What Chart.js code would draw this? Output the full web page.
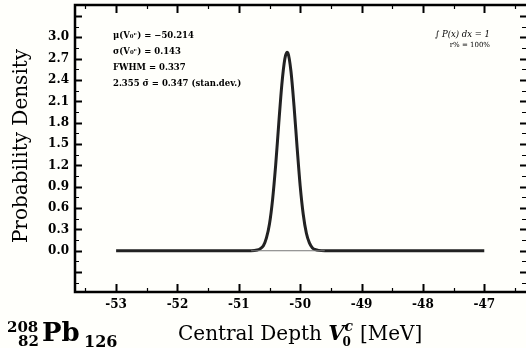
<!DOCTYPE html>
<html>
<head>
<meta charset="utf-8">
<script src="https://cdn.jsdelivr.net/npm/chart.js@4.4.1/dist/chart.umd.min.js"></script>
<style>
  html, body { margin: 0; padding: 0; background: #fffffb; overflow: hidden; }
  #wrap { width: 526px; height: 348px; }
</style>
</head>
<body>
<div id="wrap"><canvas id="chart" width="526" height="348"></canvas></div>
<script>
// values
const depth = [-53, -50.8, -50.7, -50.65, -50.6, -50.55, -50.5, -50.45, -50.4, -50.35, -50.3, -50.25,
  -50.214, -50.2, -50.15, -50.1, -50.05, -50.0, -49.95, -49.9, -49.85, -49.8, -49.75, -49.7, -49.6, -47];
const density = [0, 0, 0.01, 0.03, 0.07, 0.18, 0.38, 0.72, 1.20, 1.78, 2.33, 2.70,
  2.79, 2.78, 2.52, 2.03, 1.45, 0.91, 0.51, 0.25, 0.11, 0.04, 0.015, 0.005, 0, 0];
const baseDepth = [-50.8, -49.6];
const baseLevel = [0, 0];
const xTicks = [-53, -52, -51, -50, -49, -48, -47];
const yTicks = [0.0, 0.3, 0.6, 0.9, 1.2, 1.5, 1.8, 2.1, 2.4, 2.7, 3.0];

const stats = [
  'μ(V₀ᶜ) = −50.214',
  'σ(V₀ᶜ) = 0.143',
  'FWHM = 0.337',
  '2.355 σ̄ = 0.347 (stan.dev.)'
];

const SERIF = '"DejaVu Serif", serif';

// inward ticks, frame and text
const decor = {
  id: 'decor',
  beforeDraw(chart) {
    const c = chart.ctx;
    c.save();
    c.fillStyle = '#fffffb';
    c.fillRect(0, 0, chart.width, chart.height);
    c.restore();
  },
  afterDatasetsDraw(chart) {
    const c = chart.ctx;
    const a = chart.chartArea;
    const xs = chart.scales.x, ys = chart.scales.y;
    const right = chart.width; // frame's right edge sits just outside the picture
    c.save();
    c.strokeStyle = '#000';
    // x ticks bottom + top
    for (let v = -53.5; v <= -46.5; v += 0.5) {
      const px = Math.round(xs.getPixelForValue(v)) + 0.5;
      const major = Number.isInteger(v);
      const len = major ? 8 : 4;
      c.lineWidth = major ? 2 : 1.2;
      c.beginPath();
      c.moveTo(px, a.bottom); c.lineTo(px, a.bottom - len);
      c.moveTo(px, a.top); c.lineTo(px, a.top + len);
      c.stroke();
    }
    // y ticks left + right
    for (let i = -3; i <= 23; i++) {
      const v = i * 0.15;
      if (v < ys.min || v > ys.max) continue;
      const py = Math.round(ys.getPixelForValue(v)) + 0.5;
      const major = i % 2 === 0;
      c.lineWidth = major ? 2 : 1.2;
      c.beginPath();
      c.moveTo(a.left, py); c.lineTo(a.left + (major ? 7 : 4), py);
      c.moveTo(right, py); c.lineTo(right - (major ? 6 : 4), py);
      c.stroke();
    }
    // frame: left, bottom, top
    c.lineWidth = 2.5;
    c.beginPath();
    c.moveTo(right, a.top);
    c.lineTo(a.left, a.top);
    c.lineTo(a.left, a.bottom);
    c.lineTo(right, a.bottom);
    c.stroke();
    c.restore();
  },
  afterDraw(chart) {
    const c = chart.ctx;
    c.save();
    c.fillStyle = '#000';
    c.textBaseline = 'alphabetic';

    // stats block
    c.font = 'bold 8.5px ' + SERIF;
    c.textAlign = 'left';
    const sy = [38, 54, 70, 86];
    stats.forEach((s, i) => c.fillText(s, 113, sy[i]));

    // normalisation note
    c.font = 'italic 8.5px ' + SERIF;
    c.textAlign = 'right';
    c.fillText('∫ P(x) dx = 1', 490, 37);
    c.font = '7px ' + SERIF;
    c.fillText('r% = 100%', 490, 47);

    // y title
    c.save();
    c.translate(27, 146);
    c.rotate(-Math.PI / 2);
    c.textAlign = 'center';
    c.font = '20px ' + SERIF;
    c.fillText('Probability Density', 0, 0);
    c.restore();

    // x title: Central Depth V0^c [MeV]
    c.textAlign = 'left';
    let x = 178;
    const by = 340;
    c.font = '20px ' + SERIF;
    c.fillText('Central Depth ', x, by);
    x += c.measureText('Central Depth ').width;
    c.font = 'bold italic 21px ' + SERIF;
    c.fillText('V', x, by);
    x += c.measureText('V').width;
    c.font = 'bold 12px ' + SERIF;
    c.fillText('0', x - 2, by + 6);
    c.font = 'bold italic 14px ' + SERIF;
    c.fillText('c', x, by - 9);
    x += 9;
    c.font = '20px ' + SERIF;
    c.fillText(' [MeV]', x, by);

    // nucleus label
    c.font = 'bold 15px ' + SERIF;
    c.fillText('208', 7, 332);
    c.fillText('82', 18, 346);
    c.font = 'bold 26px ' + SERIF;
    c.fillText('Pb', 42, 341);
    c.font = 'bold 16px ' + SERIF;
    c.fillText('126', 84, 347);
    c.restore();
  }
};

new Chart(document.getElementById('chart'), {
  type: 'line',
  data: {
    datasets: [
      {
        data: baseDepth.map((d, i) => ({ x: d, y: baseLevel[i] })),
        borderColor: '#777',
        borderWidth: 1,
        pointRadius: 0
      },
      {
        data: depth.map((d, i) => ({ x: d, y: density[i] })),
        borderColor: '#222',
        borderWidth: 3,
        pointRadius: 0,
        cubicInterpolationMode: 'monotone'
      }
    ]
  },
  options: {
    responsive: false,
    devicePixelRatio: 1,
    animation: false,
    layout: { padding: { top: 5, right: 0, left: 0, bottom: 0 } },
    plugins: { legend: { display: false }, tooltip: { enabled: false } },
    scales: {
      x: {
        type: 'linear',
        min: -53.67,
        max: -46.32,
        afterBuildTicks: s => { s.ticks = xTicks.map(v => ({ value: v })); },
        afterFit: s => { s.height = 56; s.paddingLeft = 0; s.paddingRight = 0; },
        grid: { display: false, drawTicks: false },
        border: { display: false },
        ticks: {
          padding: 6,
          color: '#000',
          font: { family: SERIF, size: 12, weight: 'bold' },
          callback: v => String(v)
        }
      },
      y: {
        min: -0.58,
        max: 3.455,
        afterBuildTicks: s => { s.ticks = yTicks.map(v => ({ value: v })); },
        afterFit: s => { s.width = 75; s.paddingTop = 0; s.paddingBottom = 0; },
        grid: { display: false, drawTicks: false },
        border: { display: false },
        ticks: {
          padding: 6,
          color: '#000',
          font: { family: SERIF, size: 12, weight: 'bold' },
          callback: v => v.toFixed(1)
        }
      }
    }
  },
  plugins: [decor]
});
</script>
</body>
</html>
